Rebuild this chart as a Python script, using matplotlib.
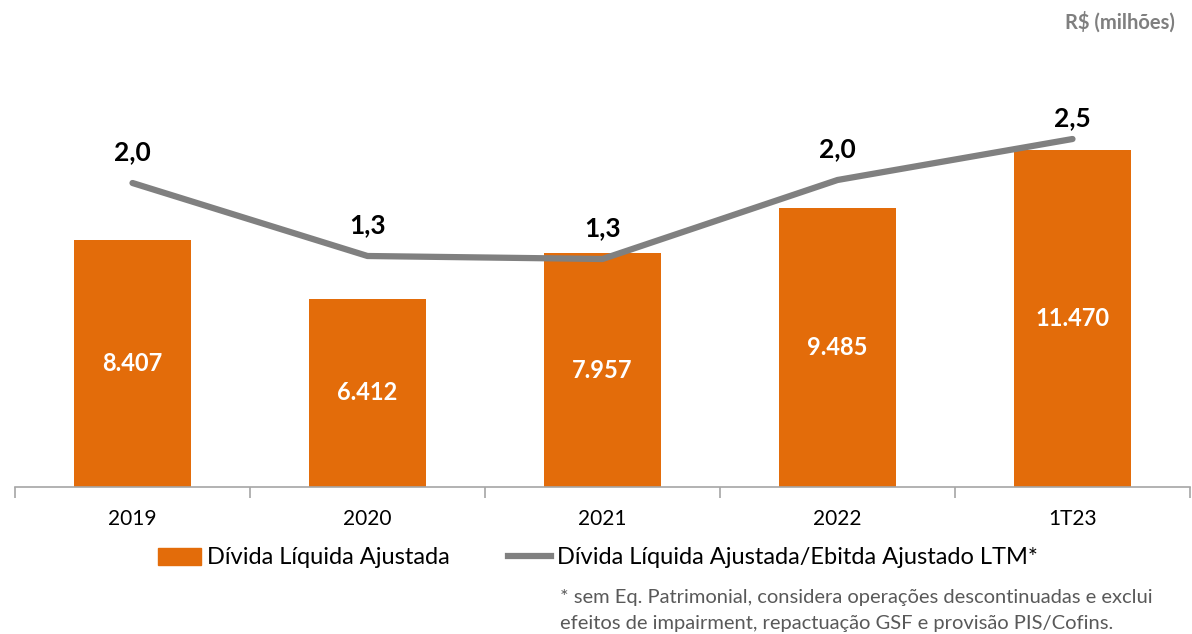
import matplotlib.pyplot as plt
from matplotlib.patches import Patch
from matplotlib.lines import Line2D

plt.rcParams['font.family'] = ['Lato', 'DejaVu Sans']

categories = ['2019', '2020', '2021', '2022', '1T23']
divida = [8407, 6412, 7957, 9485, 11470]
divida_labels = ['8.407', '6.412', '7.957', '9.485', '11.470']
alavancagem = [2.01, 1.28, 1.25, 2.04, 2.45]
alavancagem_labels = ['2,0', '1,3', '1,3', '2,0', '2,5']

orange = '#E36C0A'
gray = '#808080'

fig = plt.figure(figsize=(11.92, 6.34), dpi=100)
ax = fig.add_axes([15 / 1192, 147 / 634, 1175 / 1192, 407 / 634])
x = list(range(len(categories)))

ax.bar(x, divida, width=0.5, color=orange, zorder=2)
for xi, v, lab in zip(x, divida, divida_labels):
    ax.text(xi, v / 2, lab, ha='center', va='center', color='white',
            fontsize=17, fontweight='bold')

ax.set_xlim(-0.5, 4.5)
ax.set_ylim(0, 407 / 0.02938)
ax.set_yticks([])
for s in ['top', 'right', 'left']:
    ax.spines[s].set_visible(False)
ax.spines['bottom'].set_color('#a6a6a6')
ax.spines['bottom'].set_linewidth(1.2)
ax.set_xticks(x)
ax.set_xticklabels(categories, fontsize=15)
ax.tick_params(axis='x', which='major', length=0, pad=16)
ax.set_xticks([i - 0.5 for i in range(len(categories) + 1)], minor=True)
ax.tick_params(axis='x', which='minor', length=8, color='#a6a6a6', width=1.2)

ax2 = ax.twinx()
ax2.plot(x, alavancagem, color=gray, linewidth=4.5, solid_capstyle='round', zorder=3)
ax2.set_ylim((384 - 487) / 100, (384 - 80) / 100)
ax2.axis('off')
for xi, v, lab in zip(x, alavancagem, alavancagem_labels):
    dy = 15 if lab == '2,5' else 22
    ax2.annotate(lab, (xi, v), xytext=(0, dy), textcoords='offset points',
                 ha='center', va='center', fontsize=19, fontweight='bold', color='black')

handles = [Patch(color=orange), Line2D([], [], color=gray, linewidth=4.5)]
fig.legend(handles, ['Dívida Líquida Ajustada', 'Dívida Líquida Ajustada/Ebitda Ajustado LTM*'],
           loc='center', bbox_to_anchor=(598 / 1192, 1 - 558 / 634), ncol=2, frameon=False,
           fontsize=17, handlelength=1.8, handletextpad=0.25, columnspacing=2.5)

fig.text(560 / 1192, 1 - 597 / 634,
         '* sem Eq. Patrimonial, considera operações descontinuadas e exclui',
         fontsize=14.5, color='#595959', va='center', ha='left')
fig.text(560 / 1192, 1 - 623 / 634,
         'efeitos de impairment, repactuação GSF e provisão PIS/Cofins.',
         fontsize=14.5, color='#595959', va='center', ha='left')
fig.text(1175 / 1192, 1 - 22 / 634, 'R$ (milhões)', fontsize=14.5, fontweight='bold',
         color='#7f7f7f', ha='right', va='center')

fig.savefig('out.png', dpi=100)
